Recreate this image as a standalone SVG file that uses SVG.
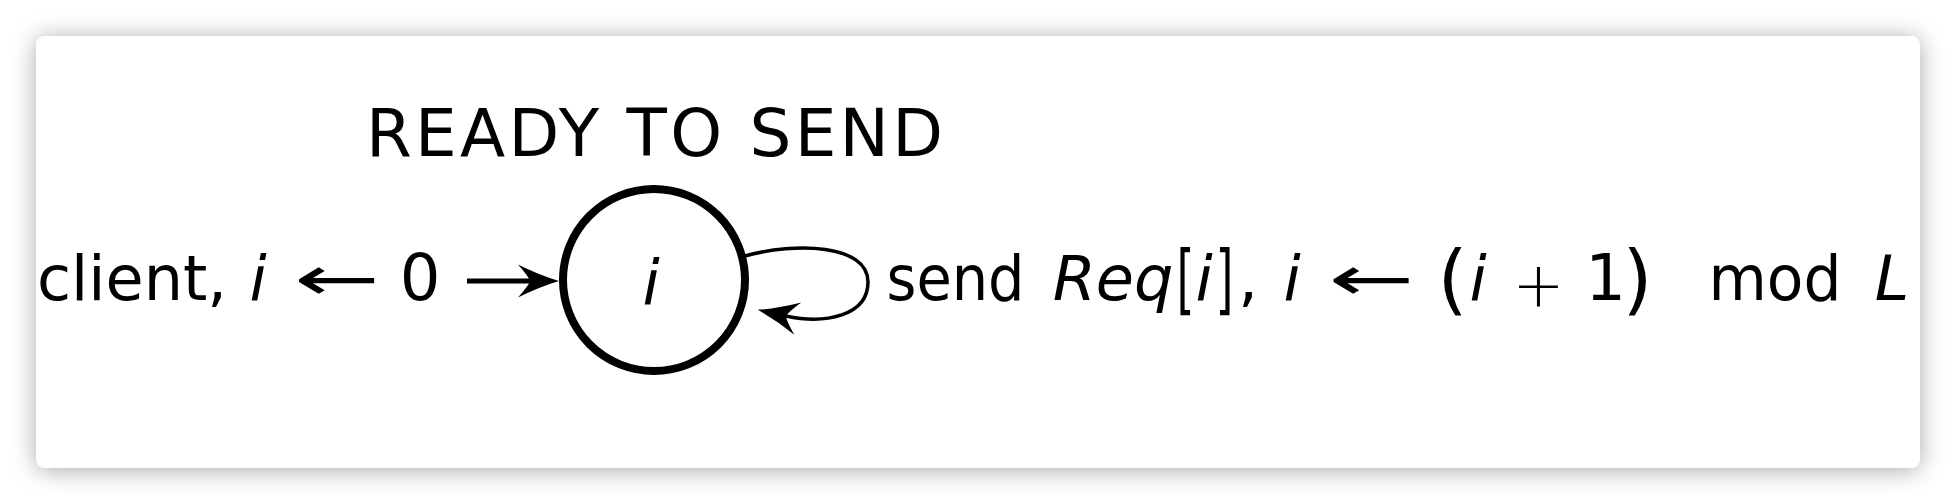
<svg xmlns="http://www.w3.org/2000/svg" width="1956" height="504" viewBox="0 0 1956 504">
<defs>
<filter id="shadow" x="-5%" y="-20%" width="110%" height="140%">
<feDropShadow dx="0" dy="2" stdDeviation="12" flood-color="#000" flood-opacity="0.34"/>
</filter>
<marker id="stealth" markerUnits="userSpaceOnUse" refX="-29" refY="0" markerWidth="60" markerHeight="40" orient="auto" overflow="visible">
<path d="M 0 0 Q -20 -6 -41 -16.5 Q -30 -4 -29 0 Q -30 4 -41 16.5 Q -20 6 0 0 Z" fill="#000"/>
</marker>
<style>
.t { font-family: "DejaVu Sans", sans-serif; fill: #000; }
.row { font-size: 62px; text-anchor: middle; }
.it { font-style: italic; }
.big { font-size: 77px; }
.num { font-size: 64px; }
.edge { fill: none; stroke: #000; }
</style>
</defs>
<rect x="0" y="0" width="1956" height="504" fill="#fff"/>
<rect x="36" y="36" width="1884" height="432" rx="9" ry="9" fill="#fff" filter="url(#shadow)"/>

<g id="connectors">
<path id="init-edge" class="edge" stroke-width="5" d="M 467 281 L 530 281" marker-end="url(#stealth)"/>
<path id="loop-edge" class="edge" stroke-width="3.5" d="M 745 256 C 795 242, 868 244, 868 282 C 868 316, 825 324.5, 786 316" marker-end="url(#stealth)"/>
</g>

<g id="node-ready">
<circle cx="654" cy="280" r="91" fill="none" stroke="#000" stroke-width="8"/>
<text class="t row it" x="651" y="304">i</text>
<text class="t" x="366" y="156" font-size="66" textLength="577">READY TO SEND</text>
</g>

<g id="label-init">
<text class="t row" x="37" y="300" style="text-anchor:start">client,</text>
<text class="t row it" x="258" y="300">i</text>
<text class="t row" x="337" y="300" textLength="86" lengthAdjust="spacingAndGlyphs">←</text>
<text class="t row num" x="420" y="300">0</text>
</g>

<g id="label-loop">
<text class="t row" x="955.5" y="300" textLength="138" lengthAdjust="spacingAndGlyphs">send</text>
<text class="t row it" x="1113" y="300">Req</text>
<text class="t row big" transform="translate(1185.5,305) scale(0.6,1)">[</text>
<text class="t row it" x="1204" y="300">i</text>
<text class="t row big" transform="translate(1224.5,305) scale(0.6,1)">]</text>
<text class="t row" x="1248" y="300">,</text>
<text class="t row it" x="1292" y="300">i</text>
<text class="t row" x="1371.5" y="300" textLength="86" lengthAdjust="spacingAndGlyphs">←</text>
<text class="t row big" x="1452.5" y="305">(</text>
<text class="t row it" x="1478" y="300">i</text>
<text class="t row" x="1538.5" y="306" font-size="78" font-weight="200">+</text>
<text class="t row"><tspan class="num" x="1605.5" y="300">1</tspan><tspan class="big" x="1637.5" y="305">)</tspan></text>
<text class="t row" x="1775" y="300" textLength="133" lengthAdjust="spacingAndGlyphs">mod</text>
<text class="t row it" x="1892" y="300" font-size="64">L</text>
</g>
</svg>
